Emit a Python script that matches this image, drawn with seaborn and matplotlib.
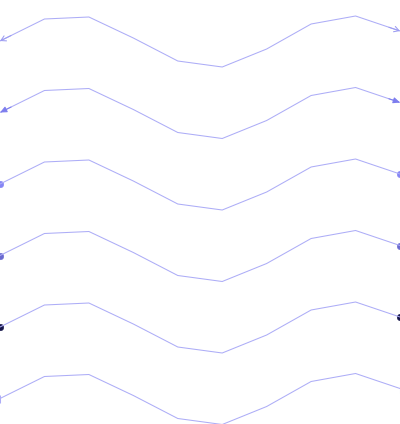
import numpy as np
import pandas as pd
import matplotlib
matplotlib.use("Agg")
import matplotlib.pyplot as plt
import seaborn as sns

# one wave shape, repeated with a vertical offset per row
x = list(range(10))
wave = [41, 19, 17, 38, 61, 67, 49, 24, 16, 31]
offsets = [0, 71.5, 143, 214.5, 286, 357.5]
line_color = "#adadf7"

rows = []
for i, off in enumerate(offsets):
    for xi, w in zip(x, wave):
        rows.append({"x": xi, "y": w + off, "row": i})
df = pd.DataFrame(rows)

sns.set_style("white")
fig = plt.figure(figsize=(4.0, 4.24), dpi=100)
ax = fig.add_axes([0, 0, 1, 1])

sns.lineplot(data=df, x="x", y="y", units="row", estimator=None,
             color=line_color, linewidth=0.75, ax=ax, legend=False)

# end decorations
def ends(i):
    d = df[df["row"] == i]
    return d.iloc[0], d.iloc[1], d.iloc[-2], d.iloc[-1]

def arrow(tail, head, style, color):
    # short shaft so only the head stands out over the line
    tx = head.x + 0.25 * (tail.x - head.x)
    ty = head.y + 0.25 * (tail.y - head.y)
    ax.annotate("", xy=(head.x, head.y), xytext=(tx, ty),
                arrowprops=dict(arrowstyle=style, color=color, lw=0.75,
                                shrinkA=0, shrinkB=0))

# row 0: open arrowheads
a0, a1, b1, b0 = ends(0)
arrow(a1, a0, "->,head_length=0.35,head_width=0.2", "#9c9cf2")
arrow(b1, b0, "->,head_length=0.35,head_width=0.2", "#9c9cf2")

# row 1: filled arrowheads
a0, a1, b1, b0 = ends(1)
arrow(a1, a0, "-|>,head_length=0.4,head_width=0.18", "#7d7dee")
arrow(b1, b0, "-|>,head_length=0.4,head_width=0.18", "#7d7dee")

# rows 2-4: circles
circle_colors = ["#8585f5", "#6a6ad0", "#15154a"]
for i, c in zip([2, 3, 4], circle_colors):
    a0, a1, b1, b0 = ends(i)
    sns.scatterplot(x=[a0.x, b0.x], y=[a0.y, b0.y], color=c, s=22,
                    edgecolor=c, ax=ax, legend=False, clip_on=False)

# row 5: small bar caps
a0, a1, b1, b0 = ends(5)
ax.plot([a0.x, b0.x], [a0.y, b0.y], linestyle="none", marker="|",
        markersize=6, markeredgewidth=0.75, color=line_color)

ax.set_xlim(0, 9)
ax.set_ylim(424, 0)
ax.axis("off")

fig.savefig("out.png", dpi=100)
